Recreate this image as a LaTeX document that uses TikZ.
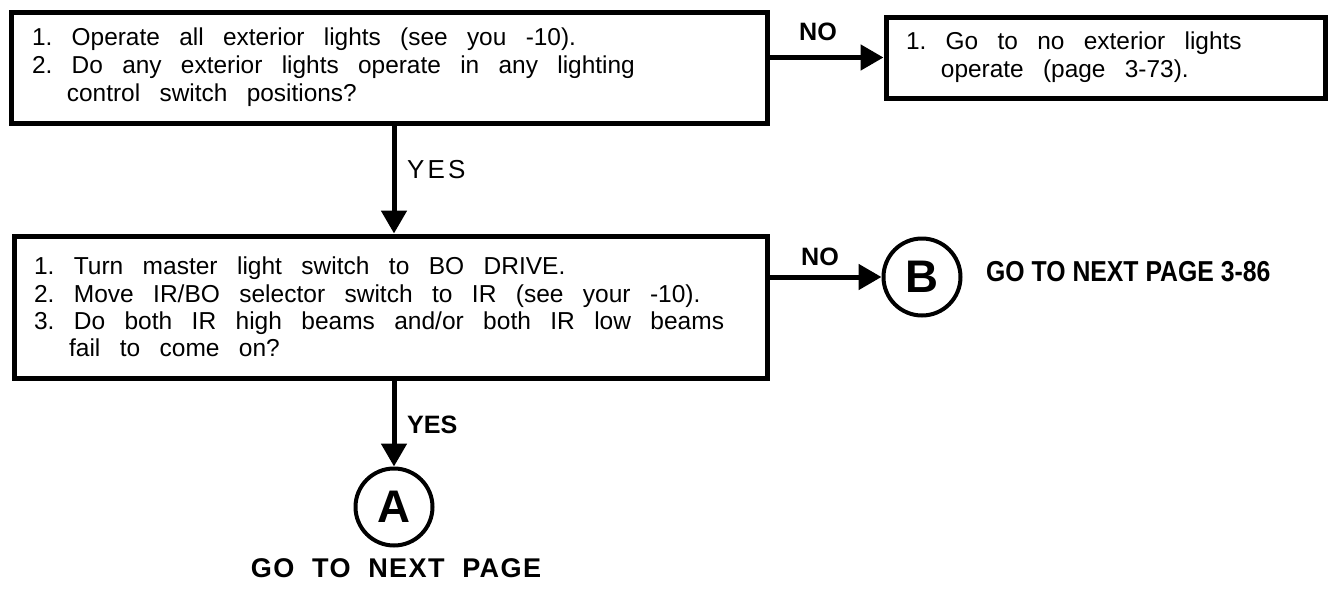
\documentclass[tikz,border=0pt]{standalone}
\usepackage{fontspec}
\setmainfont{Liberation Sans}
\newfontfamily\stepfont{Liberation Sans}[WordSpace=3]
\newfontfamily\beamfont{Liberation Sans}[WordSpace=2.85]
\newfontfamily\condfont{Liberation Sans}[FakeStretch=0.86]
\newfontfamily\widefont{Liberation Sans}[LetterSpace=5,WordSpace=2]
\newfontfamily\yesfont{Liberation Sans}[LetterSpace=12]
\usetikzlibrary{arrows.meta,positioning}
\frenchspacing

\newcommand{\contline}{\hspace*{1.43em}}

\begin{document}
\begin{tikzpicture}[
    stepbox/.style={
        rectangle, draw=black, line width=0.1cm, align=flush left,
        inner xsep=0.4cm, inner ysep=0pt,
        font=\stepfont\fontsize{13.9}{15.9}\selectfont
    },
    gocircle/.style={
        circle, draw=black, line width=0.08cm, minimum size=1.54cm,
        inner sep=0pt, font=\bfseries\fontsize{26}{26}\selectfont
    },
    answer/.style={font=\fontsize{14.3}{14.3}\selectfont\bfseries},
    fwd/.style={-{Triangle[length=0.46cm,width=0.5cm]}, line width=0.1cm}
]
\useasboundingbox (0,0) rectangle (26.6,-11.86);

% Step boxes
\node[stepbox, text width=14.3cm, minimum height=2.22cm] (check) at (7.79,-1.35)
    {1. Operate all exterior lights (see you -10).\\
     2. Do any exterior lights operate in any lighting\\
     \contline control switch positions?};
\node[stepbox, text width=7.98cm, minimum height=1.62cm] (nolights) at (22.11,-1.15)
    {1. Go to no exterior lights\\
     \contline operate (page 3-73).};
\node[stepbox, text width=14.26cm, minimum height=2.84cm, font=\beamfont\fontsize{13.95}{15.6}\selectfont] (beams) at (7.81,-6.14)
    {1. Turn master light switch to BO DRIVE.\\
     2. Move IR/BO selector switch to IR (see your -10).\\
     3. Do both IR high beams and/or both IR low beams\\
     \contline fail to come on?};

% Off-page connectors
\node[gocircle] (B) at (18.44,-5.54) {B};
\node[gocircle] (A) at (7.88,-10.14) {A};
\node[anchor=west, font=\condfont\bfseries\fontsize{16.4}{16.4}\selectfont] (nextB) at (19.6,-5.44) {GO TO NEXT PAGE 3-86};
\node[font=\widefont\bfseries\fontsize{15.4}{15.4}\selectfont] (nextA) at (7.92,-11.36) {GO TO NEXT PAGE};

% Answer arrows
\draw[fwd] (check.east |- nolights.west) -- (nolights.west);
\node[answer] (no1) at (16.36,-0.64) {NO};
\draw[fwd] (A |- check.south) -- (A |- beams.north);
\node[anchor=west, font=\yesfont\fontsize{14.8}{14.8}\selectfont] (yes1) at (8.02,-3.4) {YES};
\draw[fwd] (beams.east |- B.west) -- (B);
\node[answer] (no2) at (16.4,-5.14) {NO};
\draw[fwd] (A |- beams.south) -- (A);
\node[answer, anchor=west] (yes2) at (8.02,-8.5) {YES};
\end{tikzpicture}
\end{document}
